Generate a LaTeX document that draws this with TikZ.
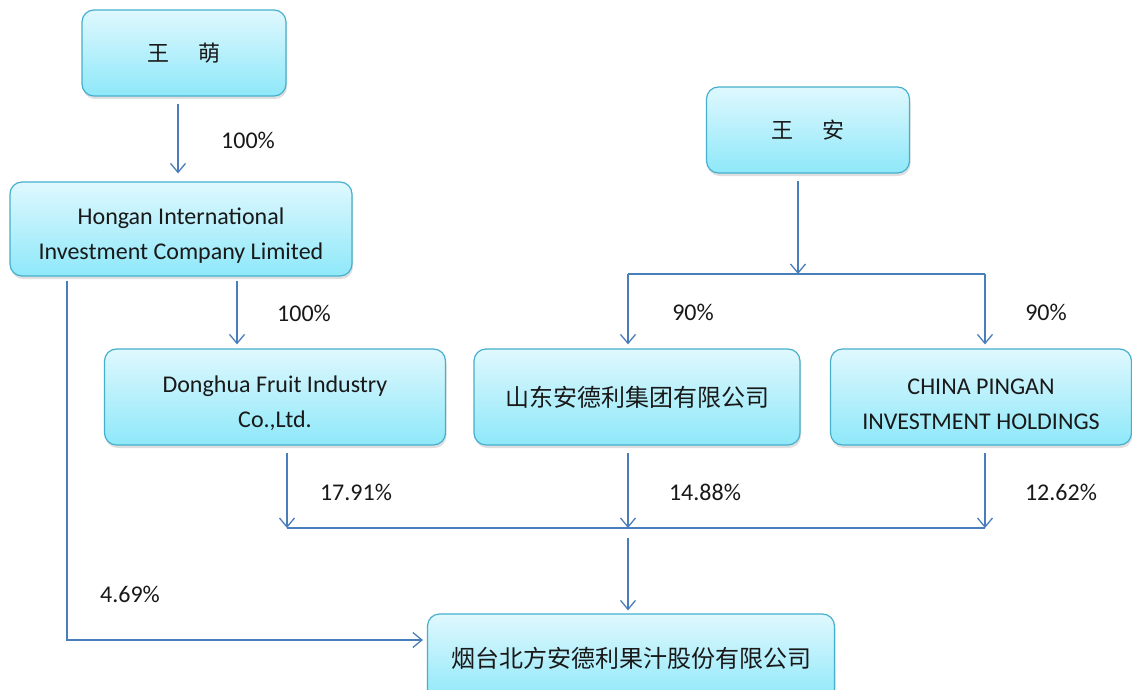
\documentclass[tikz,border=0pt]{standalone}
\usepackage{fontspec}
\setmainfont{Carlito}
\newfontfamily\cjk{Noto Sans CJK SC}
\usetikzlibrary{arrows.meta,shadows}

\definecolor{boxtop}{RGB}{223,248,254}
\definecolor{boxbottom}{RGB}{142,232,249}
\definecolor{boxline}{RGB}{70,176,204}
\definecolor{linkblue}{RGB}{74,126,187}

% pushes two-line text a little down in its box
\newcommand{\lowstrut}{\rule{0pt}{30pt}}

\tikzset{
  holder/.style={draw=boxline,line width=1.2pt,rounded corners=12pt,
    top color=boxtop,bottom color=boxbottom,align=center,inner sep=0pt,
    drop shadow={shadow xshift=1pt,shadow yshift=-3pt,opacity=0.25},
    font=\fontsize{24}{35}\selectfont,text=black!90},
  link/.style={draw=linkblue,line width=1.3pt},
  arr/.style={link,-{Straight Barb[length=9pt,width=15pt,line width=1.3pt]}},
  pct/.style={font=\fontsize{24}{28}\selectfont,text=black!90}
}

\begin{document}
\begin{tikzpicture}[x=1pt,y=-1pt]

  \useasboundingbox[fill=white] (0,0) rectangle (1132,690);

  % boxes
  \node[holder,minimum width=204pt,minimum height=86pt] (wangmeng) at (184,53)
    {\cjk\fontsize{22}{26}\selectfont 王\hspace{1.3em}萌};
  \node[holder,minimum width=342pt,minimum height=94pt] (hongan) at (181,229)
    {\lowstrut Hongan International\\Investment Company Limited};
  \node[holder,minimum width=203pt,minimum height=86pt] (wangan) at (808,130)
    {\cjk\fontsize{22}{26}\selectfont 王\hspace{1.3em}安};
  \node[holder,minimum width=341pt,minimum height=96pt] (donghua) at (275,397)
    {\lowstrut Donghua Fruit Industry\\Co.,Ltd.};
  \node[holder,minimum width=326pt,minimum height=96pt] (shandong) at (637,397)
    {\cjk\fontsize{24}{28}\selectfont 山东安德利集团有限公司};
  \node[holder,minimum width=301pt,minimum height=96pt] (pingan) at (981,397)
    {\lowstrut CHINA PINGAN\\INVESTMENT HOLDINGS};
  \node[holder,minimum width=407pt,minimum height=88pt] (andre) at (631,658)
    {\cjk\fontsize{24}{28}\selectfont 烟台北方安德利果汁股份有限公司};

  % junction points
  \coordinate (splitL) at (628,274);
  \coordinate (splitR) at (985,274);
  \coordinate (joinL) at (287,528);
  \coordinate (joinM) at (628,528);
  \coordinate (joinR) at (985,528);

  % upper links
  \draw[arr,shorten <=7pt,shorten >=8pt] ([xshift=-6pt]wangmeng.south) -- ([xshift=-3pt]hongan.north);
  \draw[arr,shorten <=4pt,shorten >=4pt] ([xshift=56pt]hongan.south) -- ([xshift=56pt]hongan.south |- donghua.north);
  \draw[arr,shorten <=7pt] ([xshift=-10pt]wangan.south) -- (splitL -| 798,0);
  \draw[link] (splitL) -- (splitR);
  \draw[arr,shorten >=4pt] (splitL) -- (splitL |- shandong.north);
  \draw[arr,shorten >=4pt] (splitR) -- (splitR |- pingan.north);

  % lower links
  \draw[arr,shorten <=7pt] (joinL |- donghua.south) -- (joinL);
  \draw[arr,shorten <=7pt] (joinM |- shandong.south) -- (joinM);
  \draw[arr,shorten <=7pt] (joinR |- pingan.south) -- (joinR);
  \draw[link] (joinL) -- (joinR);
  \draw[arr,shorten <=10pt,shorten >=3pt] (joinM) -- (joinM |- andre.north);
  \draw[arr,shorten <=4pt,shorten >=4pt] ([xshift=-114pt]hongan.south) |- ([yshift=18pt]andre.west);

  % percentages
  \node[pct] (p1) at (248,140) {100\%};
  \node[pct] (p2) at (304,313) {100\%};
  \node[pct] (p3) at (693,312) {90\%};
  \node[pct] (p4) at (1046,312) {90\%};
  \node[pct] (p5) at (356,492) {17.91\%};
  \node[pct] (p6) at (705,492) {14.88\%};
  \node[pct] (p7) at (1061,492) {12.62\%};
  \node[pct] (p8) at (130,594) {4.69\%};

\end{tikzpicture}
\end{document}
